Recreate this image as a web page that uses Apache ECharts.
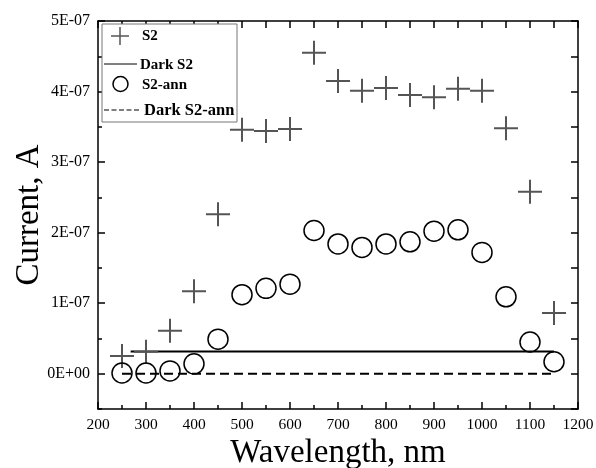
<!DOCTYPE html>
<html>
<head>
<meta charset="utf-8">
<script src="https://cdn.jsdelivr.net/npm/echarts@6/dist/echarts.min.js"></script>
<style>
  html, body { margin: 0; padding: 0; background: #fff; }
  #chart { width: 596px; height: 468px; }
</style>
</head>
<body>
<div id="chart"></div>
<script>
const wavelengths = [250, 300, 350, 400, 450, 500, 550, 600, 650, 700, 750, 800, 850, 900, 950, 1000, 1050, 1100, 1150]
const s2 = [2.5e-8, 3.1e-8, 6.1e-8, 1.17e-7, 2.26e-7, 3.46e-7, 3.44e-7, 3.47e-7, 4.55e-7, 4.15e-7,
            4.01e-7, 4.05e-7, 3.95e-7, 3.92e-7, 4.04e-7, 4.01e-7, 3.48e-7, 2.58e-7, 8.6e-8]
const s2Ann = [1e-9, 1e-9, 4e-9, 1.4e-8, 4.9e-8, 1.12e-7, 1.21e-7, 1.27e-7, 2.03e-7, 1.84e-7,
               1.79e-7, 1.84e-7, 1.87e-7, 2.02e-7, 2.04e-7, 1.72e-7, 1.09e-7, 4.5e-8, 1.7e-8]
const darkS2X = [268, 1150]
const darkS2Y = [3.15e-8, 3.15e-8]
const darkS2AnnX = [250, 1150]
const darkS2AnnY = [0, 0]

const yTickValues = [0, 1e-7, 2e-7, 3e-7, 4e-7, 5e-7]
const yTickLabels = ['0E+00', '1E-07', '2E-07', '3E-07', '4E-07', '5E-07']

const serif = '"Liberation Serif", "Times New Roman", serif'
const plusPath = 'path://M0,11 L24,11 L24,13 L0,13 Z M11,0 L13,0 L13,24 L11,24 Z'

const chart = echarts.init(document.getElementById('chart'))

chart.setOption({
  backgroundColor: '#fff',
  animation: false,
  grid: { left: 98, right: 18, top: 21, bottom: 59, outerBoundsMode: 'none', containLabel: false },
  xAxis: [
    { type: 'value', min: 200, max: 1200, interval: 100,
      name: 'Wavelength, nm', nameLocation: 'middle', nameGap: 28, nameMoveOverlap: false,
      nameTextStyle: { fontFamily: serif, fontSize: 33, color: '#000' },
      axisLine: { onZero: false, lineStyle: { color: '#000', width: 1.5 } },
      axisTick: { inside: true, length: 7, lineStyle: { color: '#000', width: 1.5 } },
      minorTick: { show: true, splitNumber: 2, length: 4, lineStyle: { color: '#000', width: 1.5 } },
      axisLabel: { margin: 8, fontFamily: serif, fontSize: 15.5, color: '#000', formatter: (v) => String(v) },
      splitLine: { show: false } },
    { type: 'value', position: 'top', min: 200, max: 1200, interval: 50,
      axisLine: { onZero: false, lineStyle: { color: '#000', width: 1.5 } },
      axisTick: { inside: true, length: 7, lineStyle: { color: '#000', width: 1.5 } },
      axisLabel: { show: false }, splitLine: { show: false } }
  ],
  yAxis: [
    { type: 'value', min: -5e-8, max: 5e-7,
      name: 'Current, A', nameLocation: 'middle', nameGap: 52, nameMoveOverlap: false,
      nameTextStyle: { fontFamily: serif, fontSize: 33, color: '#000' },
      axisLine: { onZero: false, lineStyle: { color: '#000', width: 1.5 } },
      axisTick: { inside: true, length: 7, customValues: yTickValues, lineStyle: { color: '#000', width: 1.5 } },
      axisLabel: { margin: 8, fontFamily: serif, fontSize: 16, color: '#000',
        customValues: yTickValues,
        formatter: (v) => yTickLabels[Math.round(v / 1e-7)] },
      splitLine: { show: false } },
    // minor ticks on the left
    { type: 'value', position: 'left', min: -5e-8, max: 5e-7, interval: 5e-8,
      axisLine: { show: false },
      axisTick: { inside: true, length: 4, lineStyle: { color: '#000', width: 1.5 } },
      axisLabel: { show: false }, splitLine: { show: false } },
    // right frame
    { type: 'value', position: 'right', min: -5e-8, max: 5e-7, interval: 5e-8,
      axisLine: { onZero: false, lineStyle: { color: '#000', width: 1.5 } },
      axisTick: { inside: true, length: 7, lineStyle: { color: '#000', width: 1.5 } },
      axisLabel: { show: false }, splitLine: { show: false } }
  ],
  series: [
    { name: 'Dark S2', type: 'line', data: darkS2X.map((x, i) => [x, darkS2Y[i]]),
      symbol: 'none', lineStyle: { color: '#000', width: 2 }, z: 2 },
    { name: 'Dark S2-ann', type: 'line', data: darkS2AnnX.map((x, i) => [x, darkS2AnnY[i]]),
      symbol: 'none', lineStyle: { color: '#000', width: 2, type: [9, 5] }, z: 2 },
    { name: 'S2', type: 'scatter', data: wavelengths.map((x, i) => [x, s2[i]]),
      symbol: plusPath, symbolSize: 24, itemStyle: { color: '#555', opacity: 1 }, z: 3 },
    { name: 'S2-ann', type: 'scatter', data: wavelengths.map((x, i) => [x, s2Ann[i]]),
      symbol: 'circle', symbolSize: 20,
      itemStyle: { color: 'rgba(255,255,255,0)', borderColor: '#000', borderWidth: 1.5, opacity: 1 }, z: 3 }
  ],
  graphic: [
    { type: 'rect', shape: { x: 102, y: 24, width: 135, height: 98 },
      style: { fill: '#fff', stroke: '#777', lineWidth: 1 }, z: 10 },
    { type: 'line', shape: { x1: 111, y1: 36, x2: 129, y2: 36 }, style: { stroke: '#555', lineWidth: 1.5 }, z: 11 },
    { type: 'line', shape: { x1: 120, y1: 27, x2: 120, y2: 45 }, style: { stroke: '#555', lineWidth: 1.5 }, z: 11 },
    { type: 'text', x: 142, y: 36, style: { text: 'S2', font: 'bold 15px ' + serif, fill: '#000', verticalAlign: 'middle' }, z: 11 },
    { type: 'line', shape: { x1: 104, y1: 64, x2: 137, y2: 64 }, style: { stroke: '#000', lineWidth: 1 }, z: 11 },
    { type: 'text', x: 140, y: 65, style: { text: 'Dark S2', font: 'bold 15px ' + serif, fill: '#000', verticalAlign: 'middle' }, z: 11 },
    { type: 'circle', shape: { cx: 120.5, cy: 84, r: 7.5 }, style: { fill: 'none', stroke: '#000', lineWidth: 1.5 }, z: 11 },
    { type: 'text', x: 142, y: 85, style: { text: 'S2-ann', font: 'bold 15px ' + serif, fill: '#000', verticalAlign: 'middle' }, z: 11 },
    { type: 'line', shape: { x1: 104, y1: 110, x2: 139, y2: 110 }, style: { stroke: '#000', lineWidth: 1.2, lineDash: [5, 2.5] }, z: 11 },
    { type: 'text', x: 144, y: 111, style: { text: 'Dark S2-ann', font: 'bold 16.5px ' + serif, fill: '#000', verticalAlign: 'middle' }, z: 11 }
  ]
})
</script>
</body>
</html>
